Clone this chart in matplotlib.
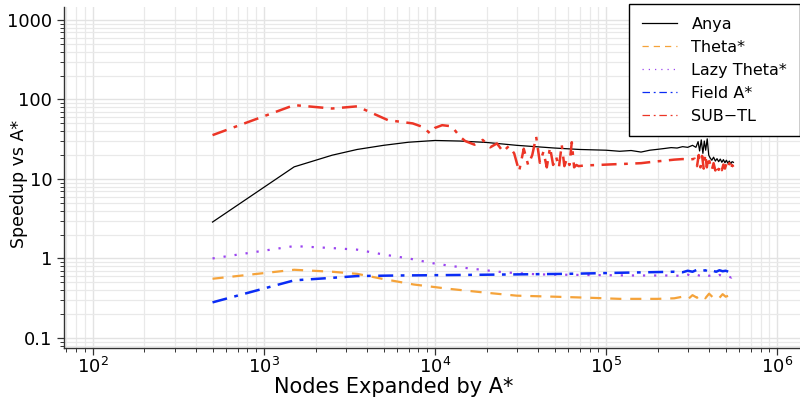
import matplotlib
matplotlib.use("Agg")
import matplotlib.pyplot as plt
from matplotlib.ticker import LogLocator, NullFormatter, FixedLocator, FixedFormatter

plt.rcParams['font.family'] = ['DejaVu Sans']
plt.rcParams['mathtext.fontset'] = 'dejavusans'
plt.rcParams['mathtext.default'] = 'regular'

# ---------------- data ----------------
anya_x = [500, 1500, 2500, 3500, 5000, 7000, 10000, 14000, 20000, 30000, 50000, 70000,
          100000, 120000, 140000, 160000, 180000, 200000, 220000, 240000, 260000,
          280000, 300000, 320000, 335000, 345000, 352000, 360000, 368000, 375000, 382000,
          390000, 398000, 405000, 415000, 425000, 435000, 445000, 455000, 465000, 475000,
          485000, 495000, 505000, 515000, 525000, 535000, 545000, 555000]
anya_y = [2.87, 14.2, 19.9, 23.5, 26.5, 29.0, 30.5, 30.0, 28.8, 26.5, 24.5, 23.5,
          23.0, 22.3, 22.8, 21.8, 23.0, 23.6, 24.2, 24.8, 24.5,
          25.5, 25.0, 26.5, 25.0, 29.5, 22.5, 31.0, 21.0, 30.0, 23.0,
          32.0, 20.0, 18.5, 17.2, 18.8, 16.8, 18.0, 16.5, 17.8, 16.2,
          17.5, 16.0, 17.2, 15.8, 16.8, 15.5, 16.5, 16.2]

theta_x = [500, 1500, 2500, 3500, 5000, 7500, 12000, 20000, 30000, 50000, 80000, 120000,
           200000, 250000, 280000, 300000, 320000, 340000, 360000, 380000, 400000, 420000,
           440000, 460000, 480000, 500000, 520000, 540000, 555000]
theta_y = [0.555, 0.72, 0.68, 0.64, 0.55, 0.47, 0.415, 0.37, 0.34, 0.33, 0.32, 0.31,
           0.31, 0.315, 0.33, 0.305, 0.345, 0.32, 0.35, 0.315, 0.36, 0.325,
           0.345, 0.32, 0.355, 0.33, 0.34, 0.335, 0.35]

lazy_x = [500, 1500, 2500, 3500, 5000, 7000, 10000, 15000, 25000, 40000, 70000, 150000,
          250000, 280000, 300000, 320000, 340000, 360000, 380000, 400000, 420000, 440000,
          460000, 480000, 500000, 520000, 540000, 555000]
lazy_y = [1.0, 1.43, 1.35, 1.29, 1.12, 1.0, 0.86, 0.76, 0.67, 0.63, 0.62, 0.61,
          0.61, 0.6, 0.625, 0.595, 0.62, 0.6, 0.63, 0.605, 0.615, 0.595,
          0.62, 0.6, 0.61, 0.59, 0.575, 0.615]

field_x = [500, 1500, 2500, 3500, 6000, 15000, 30000, 60000, 120000, 250000,
           280000, 300000, 320000, 340000, 360000, 380000, 400000, 420000, 440000,
           460000, 480000, 500000, 520000, 540000, 555000]
field_y = [0.28, 0.53, 0.57, 0.60, 0.61, 0.62, 0.63, 0.64, 0.66, 0.68,
           0.67, 0.70, 0.68, 0.72, 0.69, 0.71, 0.675, 0.70, 0.68, 0.71,
           0.69, 0.70, 0.68, 0.695, 0.72]

subtl_x = [500, 1500, 2500, 3500, 5300, 7400, 8500, 9350, 10000, 11000, 12500, 14000,
           15000, 17000, 19000, 21000, 23000, 25000, 27000, 29000, 31000, 33000, 35000,
           37000, 39000, 41000, 43000, 45000, 47000, 49000, 51000, 53000, 55000, 57000,
           59000, 61000, 63000, 65000, 67000, 69000,
           75000, 90000, 110000, 130000, 160000, 190000, 220000, 250000, 280000,
           310000, 330000, 340000, 348000, 356000, 364000, 372000, 380000, 388000,
           396000, 405000, 415000, 425000, 435000, 445000, 455000, 465000, 475000,
           485000, 495000, 505000, 515000, 525000, 535000, 545000, 555000]
subtl_y = [35.6, 85.0, 77.0, 82.0, 55.0, 50.0, 45.0, 37.4, 44.0, 47.5, 46.0, 34.0,
           30.0, 27.0, 31.0, 25.0, 28.0, 22.0, 26.0, 21.0, 12.5, 24.0, 15.0,
           20.0, 34.0, 16.0, 22.0, 14.0, 25.0, 15.0, 19.0, 14.0, 27.0, 14.5,
           18.0, 15.0, 29.0, 14.0, 15.0, 14.5,
           14.8, 15.0, 15.3, 15.5, 15.8, 16.5, 17.0, 17.5, 17.8,
           17.5, 18.0, 14.5, 20.0, 14.0, 19.5, 13.5, 20.5, 14.0,
           19.0, 15.5, 13.0, 15.8, 12.8, 15.0, 13.0, 14.8, 12.9,
           15.2, 13.5, 15.5, 13.8, 15.8, 13.2, 15.0, 14.2]

labels = ["Anya", "Theta*", "Lazy Theta*", "Field A*", "SUB\u2212TL"]
y_ticks = [0.1, 1, 10, 100, 1000]
y_tick_labels = ["0.1", "1", "10", "100", "1000"]
x_ticks = [1e2, 1e3, 1e4, 1e5, 1e6]
x_tick_labels = [r"$10^{2}$", r"$10^{3}$", r"$10^{4}$", r"$10^{5}$", r"$10^{6}$"]

# ---------------- figure ----------------
fig = plt.figure(figsize=(8.0, 3.99), dpi=100)
ax = fig.add_axes([0.08, 0.128, 0.92, 0.8545])

ax.plot(anya_x, anya_y, color='black', lw=0.9, ls='-', label=labels[0], zorder=3)
ax.plot(theta_x, theta_y, color='#f5a33a', lw=1.6, ls=(0, (5, 4)), label=labels[1], zorder=3)
ax.plot(lazy_x, lazy_y, color='#9b45f0', lw=1.6, ls=(0, (1, 4)), label=labels[2], zorder=3)
ax.plot(field_x, field_y, color='#0a2cf5', lw=1.8, ls=(0, (6, 3, 1.5, 3)), label=labels[3], zorder=3)
ax.plot(subtl_x, subtl_y, color='#ec3526', lw=1.8, ls=(0, (6, 3, 1.5, 3)), label=labels[4], zorder=4)

ax.set_xscale('log')
ax.set_yscale('log')
ax.set_xlim(67.7, 1.36e6)
ax.set_ylim(0.0748, 1459)

ax.xaxis.set_major_locator(FixedLocator(x_ticks))
ax.xaxis.set_major_formatter(FixedFormatter(x_tick_labels))
ax.yaxis.set_major_locator(FixedLocator(y_ticks))
ax.yaxis.set_major_formatter(FixedFormatter(y_tick_labels))
ax.xaxis.set_minor_locator(LogLocator(base=10, subs=range(2, 10), numticks=20))
ax.yaxis.set_minor_locator(LogLocator(base=10, subs=range(2, 10), numticks=20))
ax.xaxis.set_minor_formatter(NullFormatter())
ax.yaxis.set_minor_formatter(NullFormatter())

ax.grid(True, which='major', color='#e3e3e3', lw=1.0, zorder=0)
ax.grid(True, which='minor', color='#e9e9e9', lw=0.9, zorder=0)
ax.set_axisbelow(True)

for s in ['top', 'right']:
    ax.spines[s].set_visible(False)
for s in ['left', 'bottom']:
    ax.spines[s].set_color('#333333')
    ax.spines[s].set_linewidth(1.0)

ax.tick_params(which='major', direction='out', length=5, width=0.9, color='#333333',
               labelsize=13)
ax.tick_params(axis='y', which='major', pad=3.5)
ax.tick_params(axis='x', which='major', pad=1.5)
ax.tick_params(which='minor', direction='out', length=3, width=0.7, color='#333333')

ax.set_xlabel("Nodes Expanded by A*", fontsize=15)
ax.xaxis.set_label_coords(0.448, -0.085, transform=ax.transAxes)
ax.xaxis.label.set_verticalalignment('top')
ax.set_ylabel("Speedup vs A*", fontsize=12.5)
ax.yaxis.set_label_coords(-0.061, 0.481, transform=ax.transAxes)
ax.yaxis.label.set_verticalalignment('center')

leg = ax.legend(loc='upper right', bbox_to_anchor=(1.0, 1.009), borderaxespad=0,
                fontsize=11.5, frameon=True, fancybox=False, edgecolor='black',
                handlelength=2.2, handletextpad=0.9, labelspacing=0.5,
                borderpad=0.8, framealpha=1.0)
leg.get_frame().set_linewidth(1.0)
for line in leg.get_lines():
    line.set_linewidth(0.9)

fig.savefig("out.png", dpi=100)
